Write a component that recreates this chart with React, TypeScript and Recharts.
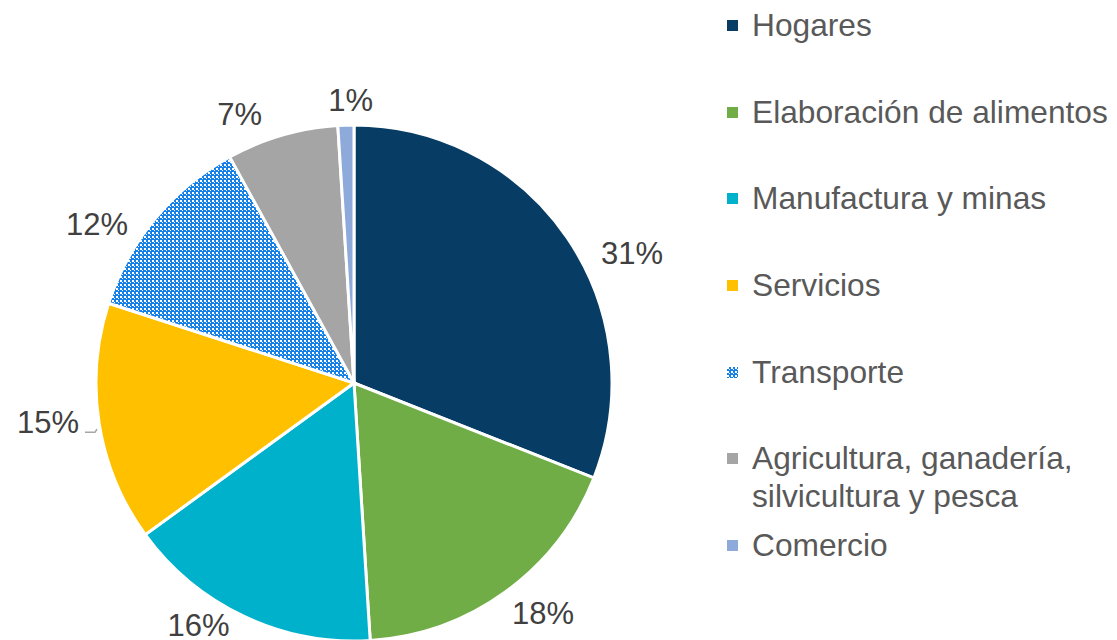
import React from 'react';
import { PieChart, Pie, Cell } from 'recharts';

const sectors = [
  'Hogares',
  'Elaboración de alimentos',
  'Manufactura y minas',
  'Servicios',
  'Transporte',
  'Agricultura, ganadería,\nsilvicultura y pesca',
  'Comercio',
];
const shares = [31, 18, 16, 15, 12, 7, 1];
const colors = ['#073d64', '#70ad47', '#00b1cb', '#ffc000', 'url(#transportePattern)', '#a5a5a5', '#8eaadb'];

const data = sectors.map((name, i) => ({ name, value: shares[i] }));

// label placement tweaks (degrees clockwise, extra px past the edge), the labels were hand-placed
const labelTurn = [9.3, -3.4, 7.5, 1.7, -8, -6.9, 1.1];
const labelGap = [48.5, 39.7, 29.6, 50.5, 43.7, 33.4, 24.3];

const RADIAN = Math.PI / 180;
const FONT = "'Liberation Sans', Arial, sans-serif";

function renderLabel(props: any) {
  const { cx, cy, midAngle, outerRadius, value, index } = props;
  const clock = (90 - midAngle + labelTurn[index]) * RADIAN;
  const r = outerRadius + labelGap[index];
  const x = cx + r * Math.sin(clock);
  const y = cy - r * Math.cos(clock);
  return (
    <g>
      <text x={x} y={y} fill="#404040" fontSize={31} fontFamily={FONT} textAnchor="middle" dominantBaseline="central">
        {value}%
      </text>
      {index === 3 && (
        <path d={`M ${x + 37} ${y + 10} L ${x + 47} ${y + 10} L ${x + 49} ${y + 7}`} stroke="#a6a6a6" strokeWidth={1.5} fill="none" />
      )}
    </g>
  );
}

function PatternDef({ id }: { id: string }) {
  return (
    <pattern id={id} width={4} height={4} patternUnits="userSpaceOnUse">
      <rect width={4} height={4} fill="#1480e8" />
      <rect x={0} y={0} width={2} height={2} fill="#ffffff" />
      <rect x={2} y={2} width={1} height={1} fill="#ffffff" />
    </pattern>
  );
}

function Marker({ color }: { color: string }) {
  return (
    <svg width={11} height={11} style={{ marginTop: 14, marginRight: 14, flexShrink: 0 }}>
      <defs>
        <PatternDef id="legendPattern" />
      </defs>
      <rect width={11} height={11} fill={color.startsWith('url') ? 'url(#legendPattern)' : color} />
    </svg>
  );
}

export default function App() {
  return (
    <div style={{ position: 'absolute', left: 0, top: 0, width: 1117, height: 640, background: '#ffffff' }}>
      <PieChart width={1117} height={640} margin={{ top: 0, right: 0, bottom: 0, left: 0 }}>
        <defs>
          <PatternDef id="transportePattern" />
        </defs>
        <Pie
          data={data}
          dataKey="value"
          nameKey="name"
          cx={354}
          cy={383}
          outerRadius={258}
          startAngle={90}
          endAngle={-270}
          stroke="#ffffff"
          strokeWidth={3}
          label={renderLabel}
          labelLine={false}
          isAnimationActive={false}
        >
          {data.map((d, i) => (
            <Cell key={d.name} fill={colors[i]} />
          ))}
        </Pie>
      </PieChart>
      <div style={{ position: 'absolute', left: 727, top: 6, width: 390 }}>
        {sectors.map((name, i) => (
          <div key={name} style={{ display: 'flex', alignItems: 'flex-start', height: 86.7 }}>
            <Marker color={colors[i]} />
            <span style={{ whiteSpace: 'pre-line', fontSize: 31.7, lineHeight: '38px', color: '#595959', fontFamily: FONT }}>
              {name}
            </span>
          </div>
        ))}
      </div>
    </div>
  );
}
